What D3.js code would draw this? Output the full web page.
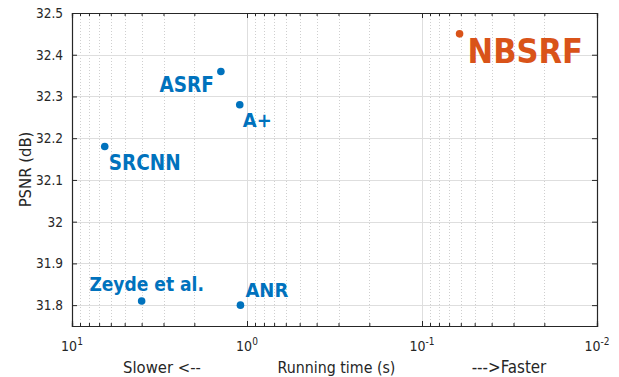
<!DOCTYPE html>
<html>
<head>
<meta charset="utf-8">
<script src="https://cdn.jsdelivr.net/npm/d3@7"></script>
<style>
  html, body { margin: 0; padding: 0; background: #ffffff; }
  svg { display: block; }
  text { font-family: "DejaVu Sans Condensed", "DejaVu Sans", sans-serif; }
</style>
</head>
<body>
<svg id="chart" width="619" height="377"></svg>
<script>
// ---- data ----
const methods   = ["Zeyde et al.", "ANR", "A+", "ASRF", "SRCNN", "NBSRF"];
const runTimes  = [4.0, 1.09, 1.10, 1.41, 6.5, 0.061];   // seconds
const psnr      = [31.81, 31.80, 32.28, 32.36, 32.18, 32.45]; // dB
const highlight = [false, false, false, false, false, true];

const xMajorTicks = [10, 1, 0.1, 0.01];
const xTickExps   = ["1", "0", "-1", "-2"];
const yTicks      = [31.8, 31.9, 32, 32.1, 32.2, 32.3, 32.4, 32.5];
const yTickLabels = ["31.8", "31.9", "32", "32.1", "32.2", "32.3", "32.4", "32.5"];
const yLabel = "PSNR (dB)";
const xLabelLeft = "Slower <--";
const xLabelMid = "Running time (s)";
const xLabelRight = "--->Faster";

// ---- layout (not data) ----
const labelLayout = [
  {anchor: "middle", dx: 5,  dy: -10, size: 19},
  {anchor: "start",  dx: 5,  dy: -8,  size: 20},
  {anchor: "start",  dx: 3,  dy: 22,  size: 20},
  {anchor: "end",    dx: -7, dy: 21,  size: 20.5},
  {anchor: "start",  dx: 4,  dy: 23,  size: 20.5},
  {anchor: "start",  dx: 8,  dy: 29,  size: 34}
];
const plot = {left: 72, right: 597, top: 13, bottom: 326};
const axisColor = "#262626";
const blue = "#0072BD", orange = "#D95319";

const svg = d3.select("#chart");
const x = d3.scaleLog().domain([10, 0.01]).range([plot.left, plot.right]);
const y = d3.scaleLinear().domain([31.75, 32.5]).range([plot.bottom, plot.top]);

// minor x ticks
const xMinor = [];
[1, 0.1, 0.01].forEach(base => {
  for (let m = 2; m <= 9; m++) xMinor.push(base * m);
});

const g = svg.append("g");

// minor grid (dotted)
g.selectAll("line.minorgrid").data(xMinor).join("line")
  .attr("x1", d => Math.round(x(d)) + 0.5).attr("x2", d => Math.round(x(d)) + 0.5)
  .attr("y1", plot.top).attr("y2", plot.bottom)
  .attr("stroke", "#cfcfcf").attr("stroke-width", 1).attr("stroke-dasharray", "1,2");

// major grid
g.selectAll("line.xgrid").data(xMajorTicks.slice(1, 3)).join("line")
  .attr("x1", d => Math.round(x(d)) + 0.5).attr("x2", d => Math.round(x(d)) + 0.5)
  .attr("y1", plot.top).attr("y2", plot.bottom)
  .attr("stroke", "#dedede").attr("stroke-width", 1);
g.selectAll("line.ygrid").data(yTicks.filter(v => v < 32.5)).join("line")
  .attr("x1", plot.left).attr("x2", plot.right)
  .attr("y1", d => Math.round(y(d)) + 0.5).attr("y2", d => Math.round(y(d)) + 0.5)
  .attr("stroke", "#dedede").attr("stroke-width", 1);

// axes via d3 axis generators (inward ticks)
const xAxisBottom = d3.axisBottom(x).tickValues(xMajorTicks).tickSize(-5).tickFormat("");
const xAxisBottomMinor = d3.axisBottom(x).tickValues(xMinor).tickSize(-3).tickFormat("");
const xAxisTop = d3.axisTop(x).tickValues(xMajorTicks).tickSize(-5).tickFormat("");
const xAxisTopMinor = d3.axisTop(x).tickValues(xMinor).tickSize(-3).tickFormat("");
const yAxisLeft = d3.axisLeft(y).tickValues(yTicks).tickSize(-5).tickFormat("");
const yAxisRight = d3.axisRight(y).tickValues(yTicks).tickSize(-5).tickFormat("");

function styleAxis(sel) {
  sel.selectAll("path").attr("stroke", axisColor).attr("stroke-width", 1);
  sel.selectAll("line").attr("stroke", axisColor).attr("stroke-width", 1);
}
g.append("g").attr("transform", `translate(0,${plot.bottom})`).call(xAxisBottom).call(styleAxis);
g.append("g").attr("transform", `translate(0,${plot.bottom})`).call(xAxisBottomMinor).call(styleAxis);
g.append("g").attr("transform", `translate(0,${plot.top})`).call(xAxisTop).call(styleAxis);
g.append("g").attr("transform", `translate(0,${plot.top})`).call(xAxisTopMinor).call(styleAxis);
g.append("g").attr("transform", `translate(${plot.left},0)`).call(yAxisLeft).call(styleAxis);
g.append("g").attr("transform", `translate(${plot.right},0)`).call(yAxisRight).call(styleAxis);
g.selectAll(".domain").attr("stroke-width", 1.2);

// y tick labels
g.selectAll("text.ytick").data(yTicks).join("text")
  .attr("x", plot.left - 9).attr("y", d => y(d)).attr("dy", "0.36em")
  .attr("text-anchor", "end").attr("font-size", 13.5).attr("fill", axisColor)
  .text((d, i) => yTickLabels[i]);

// x tick labels: 10^k
const xt = g.selectAll("text.xtick").data(xMajorTicks).join("text")
  .attr("x", d => x(d)).attr("y", 351)
  .attr("text-anchor", "middle").attr("font-size", 14).attr("fill", axisColor);
xt.append("tspan").text("10");
xt.append("tspan").attr("font-size", 10).attr("dy", -6).text((d, i) => xTickExps[i]);

// axis labels
g.append("text").attr("x", 162).attr("y", 373).attr("text-anchor", "middle")
  .attr("font-size", 16.5).attr("fill", axisColor).text(xLabelLeft);
g.append("text").attr("x", (plot.left + plot.right) / 2 + 2).attr("y", 373).attr("text-anchor", "middle")
  .attr("font-size", 15.8).attr("fill", axisColor).text(xLabelMid);
g.append("text").attr("x", 509).attr("y", 373).attr("text-anchor", "middle")
  .attr("font-size", 16.8).attr("fill", axisColor).text(xLabelRight);
g.append("text")
  .attr("transform", `translate(31,${(plot.top + plot.bottom) / 2}) rotate(-90)`)
  .attr("text-anchor", "middle").attr("font-size", 16.5).attr("fill", axisColor).text(yLabel);

// points
const pts = methods.map((m, i) => ({m, t: runTimes[i], p: psnr[i], hi: highlight[i], L: labelLayout[i]}));
g.selectAll("circle.pt").data(pts).join("circle")
  .attr("cx", d => x(d.t)).attr("cy", d => y(d.p)).attr("r", 3.8)
  .attr("fill", d => d.hi ? orange : blue);

// labels
g.selectAll("text.lbl").data(pts).join("text")
  .attr("x", d => x(d.t) + d.L.dx).attr("y", d => y(d.p) + d.L.dy)
  .attr("text-anchor", d => d.L.anchor)
  .attr("font-weight", "bold")
  .attr("font-size", d => d.L.size)
  .attr("fill", d => d.hi ? orange : blue)
  .text(d => d.m);
</script>
</body>
</html>
